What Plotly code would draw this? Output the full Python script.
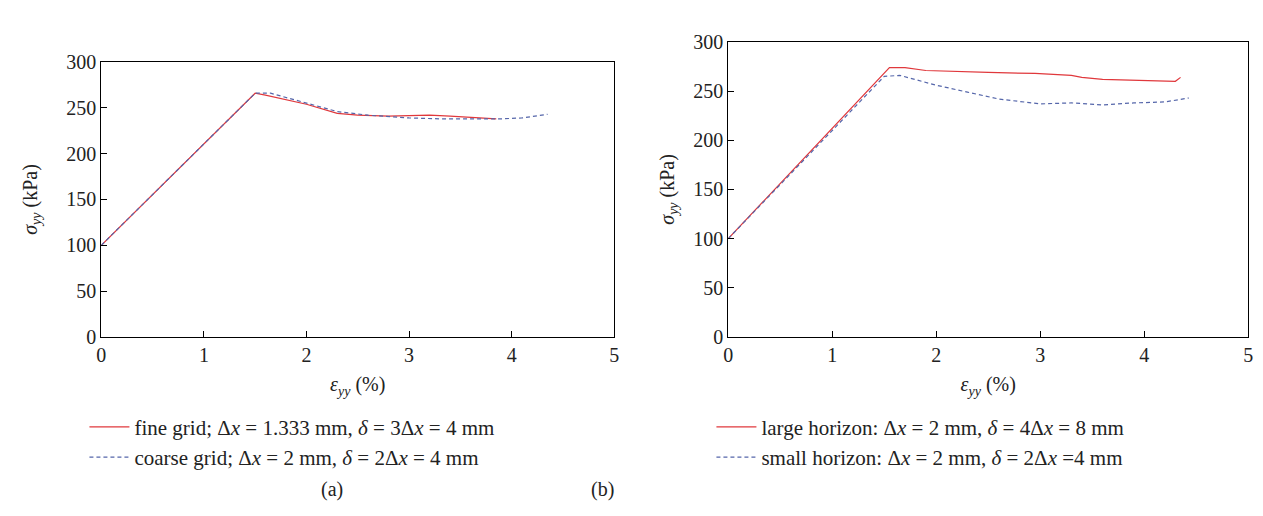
import plotly.graph_objects as go

# ---- data ----
a_fine_x = [0, 1.5, 1.6, 2.0, 2.3, 2.5, 2.8, 3.2, 3.4, 3.7, 3.85]
a_fine_y = [100, 266, 264, 254, 244, 242, 241, 242, 241, 239, 238]
a_coarse_x = [0, 1.5, 1.65, 2.0, 2.3, 2.6, 3.0, 3.3, 3.6, 3.9, 4.1, 4.35]
a_coarse_y = [100, 266, 266, 255, 246, 242, 239, 238, 238, 238, 239, 243]

b_large_x = [0, 1.55, 1.7, 1.9, 2.5, 2.95, 3.3, 3.4, 3.6, 4.0, 4.2, 4.3, 4.35]
b_large_y = [100, 274, 274, 271, 269, 268, 266, 264, 262, 261, 260, 260, 264]
b_small_x = [0, 1.5, 1.65, 1.8, 2.0, 2.3, 2.6, 3.0, 3.3, 3.6, 3.9, 4.2, 4.43]
b_small_y = [100, 265, 266, 262, 256, 249, 242, 237, 238, 236, 238, 239, 243]

x_ticks = [0, 1, 2, 3, 4, 5]
y_ticks = [0, 50, 100, 150, 200, 250, 300]

name_a1 = "fine grid; Δ<i>x</i> = 1.333 mm, <i>δ</i> = 3Δ<i>x</i> = 4 mm"
name_a2 = "coarse grid; Δ<i>x</i> = 2 mm, <i>δ</i> = 2Δ<i>x</i> = 4 mm"
name_b1 = "large horizon: Δ<i>x</i> = 2 mm, <i>δ</i> = 4Δ<i>x</i> = 8 mm"
name_b2 = "small horizon: Δ<i>x</i> = 2 mm, <i>δ</i> = 2Δ<i>x</i> =4 mm"

RED = "#e0383c"
BLUE = "#5566aa"
TXT = "#222222"
FONT = "Liberation Serif, Times New Roman, serif"
W, H = 1263, 516

fig = go.Figure()
fig.add_trace(go.Scatter(x=a_fine_x, y=a_fine_y, mode="lines", name=name_a1,
                         line=dict(color=RED, width=1.2), xaxis="x", yaxis="y", legend="legend"))
fig.add_trace(go.Scatter(x=a_coarse_x, y=a_coarse_y, mode="lines", name=name_a2,
                         line=dict(color=BLUE, width=1.2, dash="4px,3px"), xaxis="x", yaxis="y", legend="legend"))
fig.add_trace(go.Scatter(x=b_large_x, y=b_large_y, mode="lines", name=name_b1,
                         line=dict(color=RED, width=1.2), xaxis="x2", yaxis="y2", legend="legend2"))
fig.add_trace(go.Scatter(x=b_small_x, y=b_small_y, mode="lines", name=name_b2,
                         line=dict(color=BLUE, width=1.2, dash="4px,3px"), xaxis="x2", yaxis="y2", legend="legend2"))

def px(v):
    return v / W

def py(v):
    return 1 - v / H

axis_common = dict(showline=True, linecolor="black", linewidth=1.2, mirror=True,
                   ticks="inside", ticklen=6, tickcolor="black", showgrid=False,
                   zeroline=False, tickfont=dict(family=FONT, size=20, color=TXT))

xtitle = dict(text="<i>ε</i><sub><i>yy</i></sub> (%)", font=dict(family=FONT, size=20, color=TXT), standoff=12)
ytitle_a = dict(text="<i>σ</i><sub><i>yy</i></sub> (kPa)", font=dict(family=FONT, size=20, color=TXT), standoff=23)
ytitle_b = dict(text="<i>σ</i><sub><i>yy</i></sub> (kPa)", font=dict(family=FONT, size=20, color=TXT), standoff=13)

legend_common = dict(xanchor="left", yanchor="top", bgcolor="rgba(0,0,0,0)",
                     font=dict(family=FONT, size=21, color=TXT), tracegroupgap=1, itemwidth=40)

fig.update_layout(
    width=W, height=H,
    margin=dict(l=0, r=0, t=0, b=0),
    paper_bgcolor="white", plot_bgcolor="white",
    font=dict(family=FONT, color=TXT),
    xaxis=dict(domain=[px(89), px(606)], range=[0, 5], tickvals=x_ticks, anchor="y",
               title=xtitle, **axis_common),
    yaxis=dict(domain=[py(332), py(45)], range=[0, 300], tickvals=y_ticks, anchor="x",
               title=ytitle_a, **axis_common),
    xaxis2=dict(domain=[px(721), px(1245)], range=[0, 5], tickvals=x_ticks, anchor="y2",
                title=xtitle, **axis_common),
    yaxis2=dict(domain=[py(332), py(24)], range=[0, 300], tickvals=y_ticks, anchor="x2",
                title=ytitle_b, **axis_common),
    legend=dict(x=px(72), y=py(405), **legend_common),
    legend2=dict(x=px(704), y=py(405), **legend_common),
    annotations=[
        dict(text="(a)", x=px(308), y=py(506), xref="paper", yref="paper", showarrow=False,
             font=dict(family=FONT, size=20, color=TXT)),
        dict(text="(b)", x=px(594), y=py(506), xref="paper", yref="paper", showarrow=False,
             font=dict(family=FONT, size=20, color=TXT)),
    ],
)

fig.write_html("out.html")
